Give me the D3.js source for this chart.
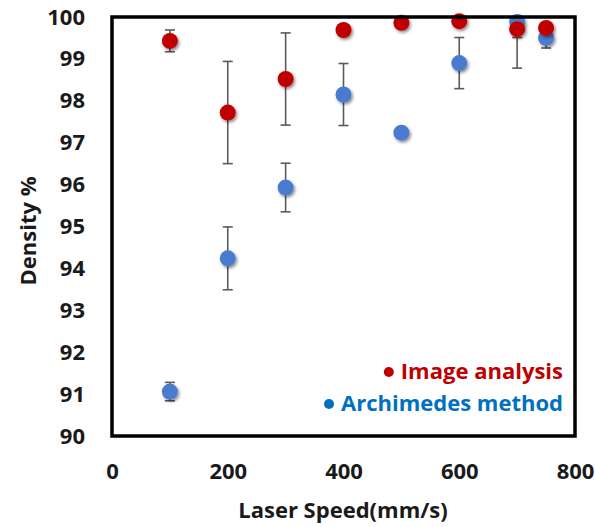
<!DOCTYPE html>
<html>
<head>
<meta charset="utf-8">
<script src="https://cdn.jsdelivr.net/npm/d3@7"></script>
<style>
  body { margin: 0; background: #fff; }
  text { font-family: "Open Sans", Lato, sans-serif; font-weight: bold; }
</style>
</head>
<body>
<svg id="chart" width="596" height="527"></svg>
<script>
// data
var speeds = [ 100, 200, 300, 400, 500, 600, 700, 750 ];
var imageDensity = [ 99.43, 97.72, 98.52, 99.69, 99.86, 99.9, 99.71, 99.74 ];
var imageErr = [ 0.26, 1.22, 1.1, 0, 0, 0, 0.2, 0 ];
var archDensity = [ 91.06, 94.24, 95.93, 98.15, 97.24, 98.9, 99.88, 99.5 ];
var archErr = [ 0.22, 0.75, 0.58, 0.74, 0, 0.61, 1.1, 0.24 ];
var xTicks = [ 0, 200, 400, 600, 800 ];
var yTicks = [ 90, 91, 92, 93, 94, 95, 96, 97, 98, 99, 100 ];

var svg = d3.select( "#chart" );

var x = d3.scaleLinear().domain( [ 0, 800 ] ).range( [ 112, 575 ] );
var y = d3.scaleLinear().domain( [ 90, 100 ] ).range( [ 436, 17 ] );

var defs = svg.append( "defs" );
defs.append( "clipPath" ).attr( "id", "plotClip" )
  .append( "rect" )
    .attr( "x", 112 ).attr( "y", 17 )
    .attr( "width", 463 ).attr( "height", 419 );
defs.append( "filter" ).attr( "id", "shadow" )
    .attr( "x", "-50%" ).attr( "y", "-50%" )
    .attr( "width", "200%" ).attr( "height", "200%" )
  .append( "feDropShadow" )
    .attr( "dx", 1.5 ).attr( "dy", 2 )
    .attr( "stdDeviation", 1.6 )
    .attr( "flood-color", "#000" )
    .attr( "flood-opacity", 0.45 );

// axes (labels only)
svg.append( "g" )
  .attr( "transform", "translate(0,436)" )
  .call( d3.axisBottom( x ).tickValues( xTicks ).tickSize( 0 ).tickPadding( 27 ) )
  .call( g => g.select( ".domain" ).remove() )
  .selectAll( "text" )
    .style( "font-size", "22px" )
    .style( "font-family", "'Open Sans', Lato, sans-serif" )
    .style( "font-weight", "bold" )
    .attr( "fill", "#1a1a1a" );

svg.append( "g" )
  .attr( "transform", "translate(112,0)" )
  .call( d3.axisLeft( y ).tickValues( yTicks ).tickSize( 0 ).tickPadding( 27 ) )
  .call( g => g.select( ".domain" ).remove() )
  .selectAll( "text" )
    .style( "font-size", "22px" )
    .style( "font-family", "'Open Sans', Lato, sans-serif" )
    .style( "font-weight", "bold" )
    .attr( "fill", "#1a1a1a" );

svg.append( "text" )
  .attr( "transform", "translate(36,231) rotate(-90)" )
  .attr( "text-anchor", "middle" )
  .style( "font-size", "22px" )
  .attr( "fill", "#1a1a1a" )
  .text( "Density %" );

svg.append( "text" )
  .attr( "x", 343 ).attr( "y", 518 )
  .attr( "text-anchor", "middle" )
  .style( "font-size", "22px" )
  .attr( "fill", "#1a1a1a" )
  .text( "Laser Speed(mm/s)" );

// series
var series = [
  { name: "Archimedes method", vals: archDensity, err: archErr, color: "#4a7bd0", legend: "#0070c0" },
  { name: "Image analysis", vals: imageDensity, err: imageErr, color: "#c00000", legend: "#c00000" }
];

var plot = svg.append( "g" ).attr( "clip-path", "url(#plotClip)" );

series.forEach( s => {
  var rows = speeds.map( ( d, i ) => ( { x: d, v: s.vals[ i ], e: s.err[ i ] } ) )
    .filter( r => r.e > 0 );
  var bars = plot.append( "g" ).selectAll( "g" )
    .data( rows )
    .enter().append( "g" )
      .attr( "stroke", "#5a5a5a" )
      .attr( "stroke-width", 1.6 );
  bars.append( "line" )
    .attr( "x1", d => x( d.x ) ).attr( "x2", d => x( d.x ) )
    .attr( "y1", d => y( d.v - d.e ) ).attr( "y2", d => y( d.v + d.e ) );
  bars.append( "line" )
    .attr( "x1", d => x( d.x ) - 5 ).attr( "x2", d => x( d.x ) + 5 )
    .attr( "y1", d => y( d.v - d.e ) ).attr( "y2", d => y( d.v - d.e ) );
  bars.append( "line" )
    .attr( "x1", d => x( d.x ) - 5 ).attr( "x2", d => x( d.x ) + 5 )
    .attr( "y1", d => y( d.v + d.e ) ).attr( "y2", d => y( d.v + d.e ) );
} );

series.forEach( s => {
  svg.append( "g" ).selectAll( "circle" )
    .data( speeds.map( ( d, i ) => ( { x: d, v: s.vals[ i ] } ) ) )
    .enter().append( "circle" )
      .attr( "cx", d => x( d.x ) )
      .attr( "cy", d => y( d.v ) )
      .attr( "r", 8 )
      .attr( "fill", s.color )
      .attr( "filter", "url(#shadow)" );
} );

// plot frame
svg.append( "rect" )
  .attr( "x", 112 ).attr( "y", 17 )
  .attr( "width", 463 ).attr( "height", 419 )
  .attr( "fill", "none" )
  .attr( "stroke", "#000" )
  .attr( "stroke-width", 3.5 );

// legend
var legendRows = [ series[ 1 ], series[ 0 ] ];
var legend = svg.append( "g" ).selectAll( "g" )
  .data( legendRows )
  .enter().append( "g" )
    .attr( "transform", ( d, i ) => "translate(563," + ( 379 + i * 32 ) + ")" );
legend.append( "text" )
  .attr( "text-anchor", "end" )
  .style( "font-size", "22px" )
  .attr( "fill", d => d.legend )
  .text( d => d.name );
legend.each( function( d ) {
  var g = d3.select( this );
  var w = g.select( "text" ).node().getComputedTextLength();
  g.append( "circle" )
    .attr( "cx", -w - 12 ).attr( "cy", -7 )
    .attr( "r", 5 )
    .attr( "fill", d.legend );
} );
</script>
</body>
</html>
